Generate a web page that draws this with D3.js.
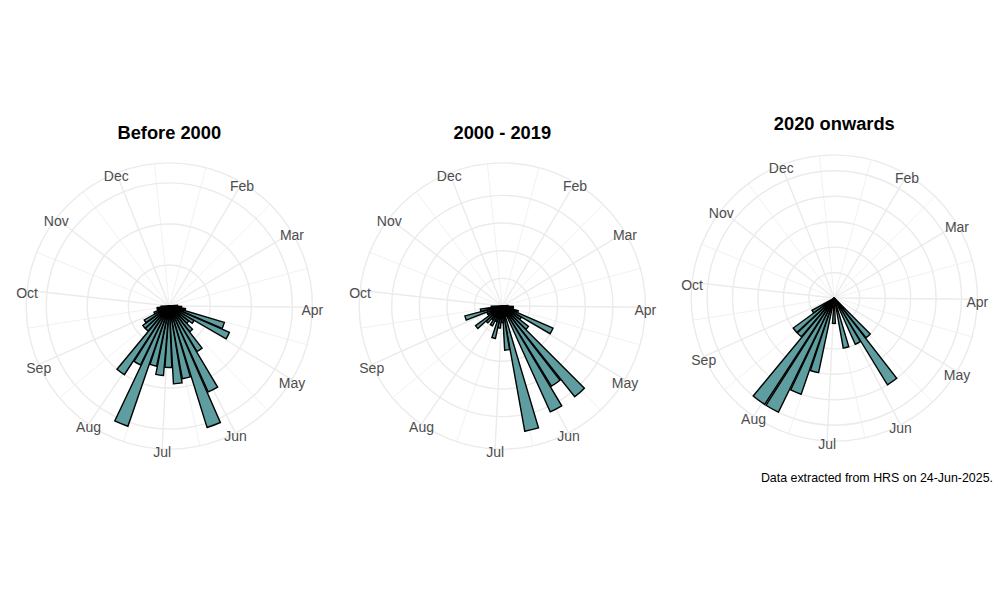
<!DOCTYPE html>
<html>
<head>
<meta charset="utf-8">
<script src="https://cdn.jsdelivr.net/npm/d3@7"></script>
<style>
  body { margin: 0; background: #fff; }
  svg { font-family: "Liberation Sans", Arial, sans-serif; }
</style>
</head>
<body>
<div id="chart"></div>
<script>
// week of year for each bar (weeks outside this range have no records)
var weeks = [13, 14, 15, 16, 17, 18, 19, 20, 21, 22, 23, 24, 25, 26, 27, 28, 29, 30, 31, 32, 33, 34, 35, 36, 37, 38];

// number of records per week, one array per period
var before2000     = [2, 3, 4, 14, 16, 7, 6, 8, 13, 23, 31, 18, 19, 15, 17, 15, 31, 16, 20, 8, 8, 7, 4, 3, 3, 2];
var from2000to2019 = [1, 2, 2, 3, 10, 4, 6, 21, 17, 21, 2, 23, 8, 3, 4, 6, 3, 4, 3, 4, 6, 3, 3, 7, 4, 2];
var since2020      = [0, 0, 0, 0, 0, 0, 0, 4, 8, 4, 0, 4, 0, 2, 0, 6, 8, 10, 10, 4, 4, 2, 0, 0, 0, 0];

var panelTitles = ["Before 2000", "2000 - 2019", "2020 onwards"];

// month labels sit at the day of year each month starts
var monthNames    = ["Jan", "Feb", "Mar", "Apr", "May", "Jun", "Jul", "Aug", "Sep", "Oct", "Nov", "Dec"];
var monthStartDay = [1, 32, 60, 91, 121, 152, 182, 213, 244, 274, 305, 335];

// radial scale top and how many ticks to ask d3 for, per panel
var rMax = [31, 23, 10];
var rTickCount = [3, 4, 5];

var captionText = "Data extracted from HRS on 24-Jun-2025.";

var width = 1000, height = 600;
var panelSize = 318;
var panelX = [169.3, 502.3, 834.3],
    panelY = [306, 306, 298],
    titleY = [138.5, 138.5, 129.5];

var svg = d3.select("#chart").append("svg")
  .attr("width", width)
  .attr("height", height);

// day of year -> angle, 0 at the top, clockwise
var theta = d3.scaleLinear().domain([1.9, 356.4]).range([0, 2 * Math.PI]);
var halfBar = 0.45 * 7;   // bars are 90% of a week wide

var majorDays = monthStartDay.filter(function(d) {
  return d >= theta.domain()[0] && d <= theta.domain()[1];
});
// minor lines half way between month starts (wrapping into next January)
var minorDays = monthStartDay.map(function(d, i) {
  var next = i < monthStartDay.length - 1 ? monthStartDay[i + 1] : 366;
  return (d + next) / 2;
});

var series = [before2000, from2000to2019, since2020];

series.forEach(function(counts, p) {
  var g = svg.append("g")
    .attr("transform", "translate(" + panelX[p] + "," + panelY[p] + ")");

  var outer = 0.45 * panelSize;
  var r = d3.scaleLinear().domain([0, rMax[p]]).range([0, 0.4 * panelSize]);

  // grid: spokes first, then rings
  g.selectAll("line.minor")
    .data(minorDays)
    .enter().append("line")
    .attr("class", "minor")
    .attr("x1", 0).attr("y1", 0)
    .attr("x2", function(d) { return outer * Math.sin(theta(d)); })
    .attr("y2", function(d) { return -outer * Math.cos(theta(d)); })
    .attr("stroke", "#ebebeb")
    .attr("stroke-width", 0.7);

  g.selectAll("line.major")
    .data(majorDays)
    .enter().append("line")
    .attr("class", "major")
    .attr("x1", 0).attr("y1", 0)
    .attr("x2", function(d) { return outer * Math.sin(theta(d)); })
    .attr("y2", function(d) { return -outer * Math.cos(theta(d)); })
    .attr("stroke", "#ebebeb")
    .attr("stroke-width", 1.4);

  var rings = r.ticks(rTickCount[p]).filter(function(t) { return t > 0; }).map(r);
  rings.push(outer);
  g.selectAll("circle.ring")
    .data(rings)
    .enter().append("circle")
    .attr("class", "ring")
    .attr("r", function(d) { return d; })
    .attr("fill", "none")
    .attr("stroke", "#ebebeb")
    .attr("stroke-width", 1.4);

  // bars as wedges
  var bars = weeks.map(function(w, i) { return { week: w, n: counts[i] }; })
    .filter(function(d) { return d.n > 0; });

  var arc = d3.arc()
    .innerRadius(0)
    .outerRadius(function(d) { return r(d.n); })
    .startAngle(function(d) { return theta(7 * d.week - 2 - halfBar); })
    .endAngle(function(d) { return theta(7 * d.week - 2 + halfBar); });

  g.selectAll("path.bar")
    .data(bars)
    .enter().append("path")
    .attr("class", "bar")
    .attr("d", arc)
    .attr("fill", "#5f9ea0")
    .attr("stroke", "#000")
    .attr("stroke-width", 1.4);

  // month labels centred on the outer ring
  g.selectAll("text.month")
    .data(majorDays)
    .enter().append("text")
    .attr("class", "month")
    .attr("x", function(d) { return outer * Math.sin(theta(d)); })
    .attr("y", function(d) { return -outer * Math.cos(theta(d)) + 3; })
    .attr("text-anchor", "middle")
    .attr("dominant-baseline", "central")
    .attr("font-size", "14px")
    .attr("fill", "#4d4d4d")
    .text(function(d) { return monthNames[monthStartDay.indexOf(d)]; });

  svg.append("text")
    .attr("x", panelX[p])
    .attr("y", titleY[p])
    .attr("text-anchor", "middle")
    .attr("font-size", "18.3px")
    .attr("font-weight", "bold")
    .attr("fill", "#000")
    .text(panelTitles[p]);
});

svg.append("text")
  .attr("x", 993)
  .attr("y", 482)
  .attr("text-anchor", "end")
  .attr("font-size", "12.4px")
  .attr("fill", "#000")
  .text(captionText);
</script>
</body>
</html>
